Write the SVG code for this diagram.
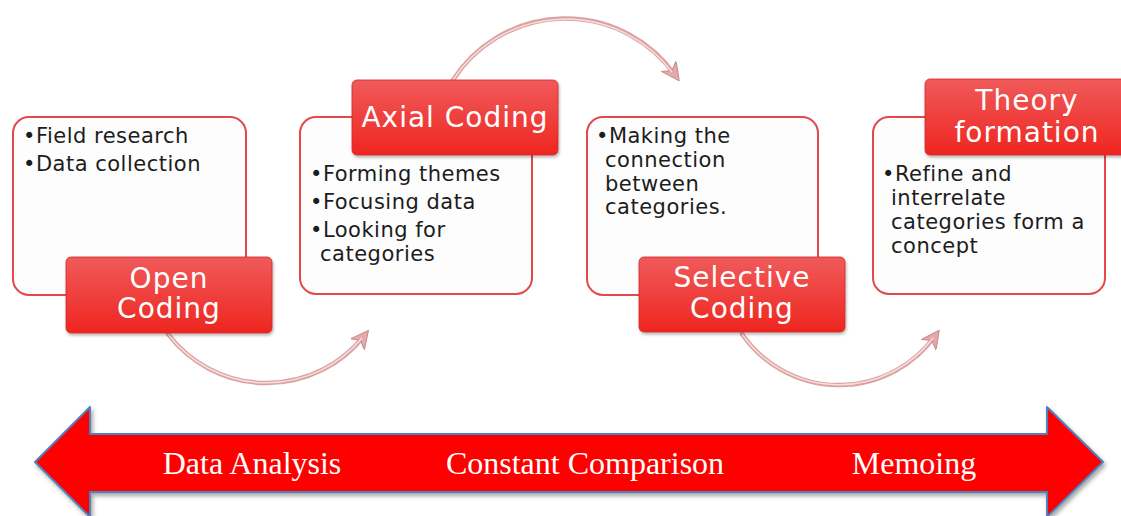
<svg xmlns="http://www.w3.org/2000/svg" width="1121" height="516" viewBox="0 0 1121 516">
<defs>
<linearGradient id="lbl" x1="0" y1="0" x2="0" y2="1">
<stop offset="0" stop-color="#f05a5a"/>
<stop offset="1" stop-color="#ee2620"/>
</linearGradient>
<filter id="sh" x="-10%" y="-10%" width="130%" height="140%">
<feDropShadow dx="1" dy="2" stdDeviation="1.5" flood-color="#000" flood-opacity="0.3"/>
</filter>
<filter id="sh2" x="-5%" y="-20%" width="110%" height="150%">
<feDropShadow dx="2" dy="3" stdDeviation="2" flood-color="#000" flood-opacity="0.35"/>
</filter>
<marker id="ah" viewBox="0 0 10 10" refX="6" refY="5" markerWidth="4" markerHeight="4" orient="auto" markerUnits="strokeWidth">
<path d="M0,0 L10,5 L0,10 L3,5 Z" fill="#e4a9a9" stroke="#c98d8d" stroke-width="0.6"/>
</marker>
<style>
.box{fill:#fdfdfd;stroke:#e3484a;stroke-width:2}
.lab{fill:url(#lbl);stroke:#d02a2a;stroke-width:0.8;filter:url(#sh)}
.bt{font-family:"DejaVu Sans",sans-serif;font-size:21px;fill:#1c1c1c;letter-spacing:0.5px}
.lt{font-family:"DejaVu Sans",sans-serif;font-size:28px;fill:#ffffff;letter-spacing:1px;text-anchor:middle}
.arc{fill:none;stroke:#dca2a2;stroke-width:4.5;stroke-linecap:round}
.arch{fill:none;stroke:#f7dede;stroke-width:1.5}
.big{font-family:"Liberation Serif",serif;font-size:32px;fill:#ffffff;text-anchor:middle}
</style>
</defs>
<rect width="1121" height="516" fill="#ffffff"/>

<g id="connectors">
<path class="arc" d="M168,334 A124,124 0 0 0 364,336" marker-end="url(#ah)"/>
<path class="arch" d="M168,334 A124,124 0 0 0 362,338"/>
<path class="arc" d="M453,80 A134,134 0 0 1 675,75" marker-end="url(#ah)"/>
<path class="arch" d="M453,80 A134,134 0 0 1 672,72"/>
<path class="arc" d="M742,334 A118,118 0 0 0 935,336" marker-end="url(#ah)"/>
<path class="arch" d="M742,334 A118,118 0 0 0 933,338"/>
</g>

<g id="open-coding">
<rect class="box" x="13" y="117" width="233" height="178" rx="16"/>
<text class="bt" x="23" y="143">•Field research</text>
<text class="bt" x="23" y="171">•Data collection</text>
<rect class="lab" x="66" y="257" width="206" height="76" rx="5"/>
<text class="lt" x="169" y="288">Open</text>
<text class="lt" x="169" y="318">Coding</text>
</g>

<g id="axial-coding">
<rect class="box" x="300" y="117" width="232" height="177" rx="16"/>
<text class="bt" x="310" y="181">•Forming themes</text>
<text class="bt" x="310" y="209">•Focusing data</text>
<text class="bt" x="310" y="237">•Looking for</text>
<text class="bt" x="320" y="261">categories</text>
<rect class="lab" x="352" y="80" width="206" height="75" rx="5"/>
<text class="lt" x="455" y="127">Axial Coding</text>
</g>

<g id="selective-coding">
<rect class="box" x="587" y="117" width="231" height="178" rx="16"/>
<text class="bt" x="596" y="143">•Making the</text>
<text class="bt" x="605" y="167">connection</text>
<text class="bt" x="605" y="191">between</text>
<text class="bt" x="605" y="214">categories.</text>
<rect class="lab" x="639" y="257" width="206" height="75" rx="5"/>
<text class="lt" x="742" y="287">Selective</text>
<text class="lt" x="742" y="318">Coding</text>
</g>

<g id="theory-formation">
<rect class="box" x="873" y="117" width="232" height="177" rx="16"/>
<text class="bt" x="882" y="181">•Refine and</text>
<text class="bt" x="891" y="205">interrelate</text>
<text class="bt" x="891" y="229">categories form a</text>
<text class="bt" x="891" y="253">concept</text>
<rect class="lab" x="925" y="79" width="206" height="76" rx="5"/>
<text class="lt" x="1027" y="110">Theory</text>
<text class="lt" x="1027" y="142">formation</text>
</g>

<g id="process-arrow">
<polygon points="35,462 90,407 90,434 1047,434 1047,407 1103,462 1047,517 1047,492 90,492 90,517" fill="#ff0000" stroke="#4f81bd" stroke-width="2" stroke-linejoin="round" filter="url(#sh2)"/>
<text class="big" x="252" y="474">Data Analysis</text>
<text class="big" x="585" y="474">Constant Comparison</text>
<text class="big" x="914" y="474">Memoing</text>
</g>
</svg>
